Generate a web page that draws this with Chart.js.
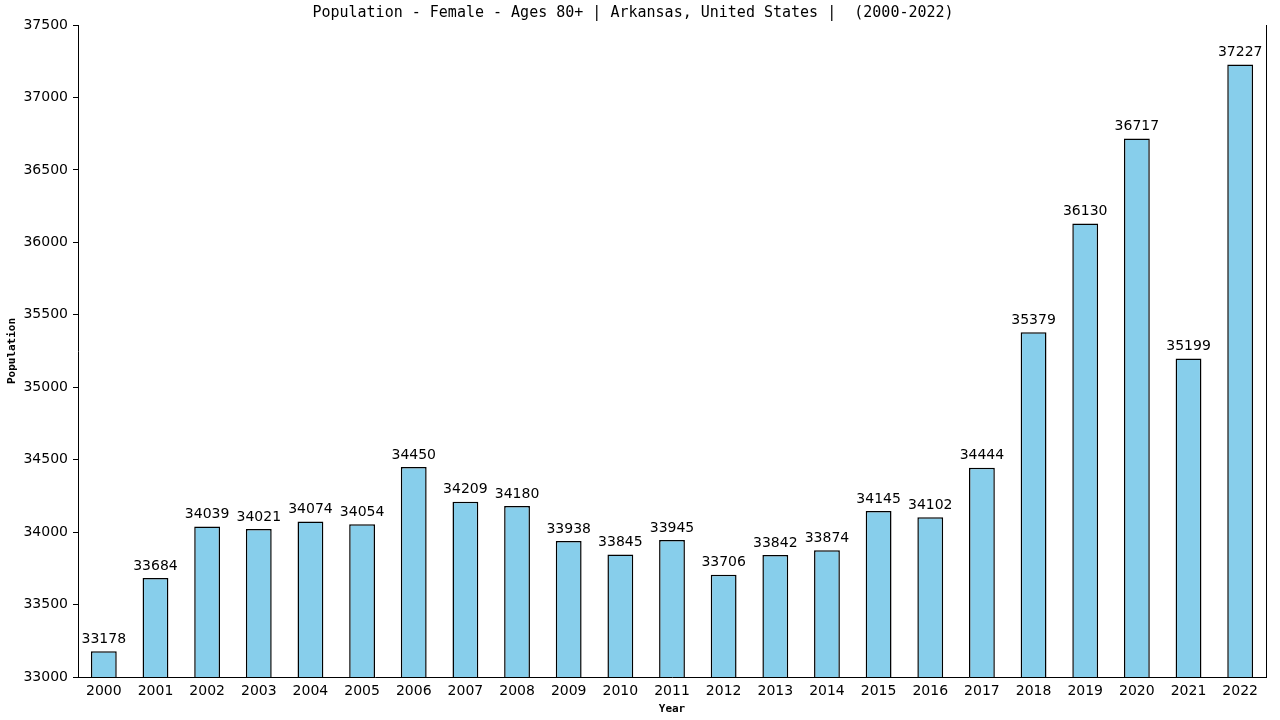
<!DOCTYPE html>
<html lang="en">
<head>
    <meta charset="UTF-8">
    <title>Population - Female - Ages 80+ | Arkansas, United States</title>
    <style>
        body {
            margin: 0;
            background-color: #fff;
        }
        .chart-box {
            width: 1280px;
            height: 720px;
        }
    </style>
</head>
<body>

<div class="chart-box">
    <canvas id="barChart"></canvas>
</div>

<script src="https://cdn.jsdelivr.net/npm/chart.js"></script>
<script>
    const years = ['2000', '2001', '2002', '2003', '2004', '2005', '2006', '2007', '2008', '2009', '2010', '2011',
        '2012', '2013', '2014', '2015', '2016', '2017', '2018', '2019', '2020', '2021', '2022'];
    const population = [33178, 33684, 34039, 34021, 34074, 34054, 34450, 34209, 34180, 33938, 33845, 33945,
        33706, 33842, 33874, 34145, 34102, 34444, 35379, 36130, 36717, 35199, 37227];
    const yMin = 33000;
    const yMax = 37500;
    const yStep = 500;

    const monoFont = "'DejaVu Sans Mono', monospace";
    const sansFont = "'DejaVu Sans', Verdana, sans-serif";

    // value labels over each bar + the right hand frame line
    const extras = {
        id: 'extras',
        afterDatasetsDraw(chart) {
            const ctx = chart.ctx;
            const meta = chart.getDatasetMeta(0);
            ctx.save();
            ctx.fillStyle = '#000';
            ctx.font = '14px ' + sansFont;
            ctx.textAlign = 'center';
            ctx.textBaseline = 'bottom';
            meta.data.forEach((bar, i) => {
                ctx.fillText(String(population[i]), bar.x, bar.y - 5);
            });
            const area = chart.chartArea;
            ctx.strokeStyle = '#000';
            ctx.lineWidth = 1;
            ctx.beginPath();
            ctx.moveTo(Math.round(area.right) + 0.5, area.top);
            ctx.lineTo(Math.round(area.right) + 0.5, area.bottom);
            ctx.stroke();
            ctx.restore();
        }
    };

    const barConfig = {
        type: 'bar',
        data: {
            labels: years,
            datasets: [{
                data: population,
                backgroundColor: '#87CEEB',
                borderColor: '#000',
                borderWidth: 1.5,
                categoryPercentage: 1,
                barPercentage: 0.5
            }]
        },
        options: {
            responsive: true,
            maintainAspectRatio: false,
            devicePixelRatio: 1,
            animation: false,
            layout: {
                padding: { left: 0, right: 14, top: 0, bottom: 4 }
            },
            plugins: {
                legend: { display: false },
                tooltip: { enabled: false },
                title: {
                    display: true,
                    text: 'Population - Female - Ages 80+ | Arkansas, United States |  (2000-2022)',
                    color: '#000',
                    font: { family: monoFont, size: 15, weight: 'normal' },
                    padding: { top: 4, bottom: 3 }
                }
            },
            scales: {
                x: {
                    grid: { display: false },
                    border: { display: true, color: '#000', width: 1 },
                    ticks: {
                        color: '#000',
                        font: { family: sansFont, size: 14 },
                        maxRotation: 0,
                        autoSkip: false,
                        padding: -2
                    },
                    title: {
                        display: true,
                        text: 'Year',
                        color: '#000',
                        font: { family: monoFont, size: 11, weight: 'bold' },
                        padding: { top: 5, bottom: 0 }
                    }
                },
                y: {
                    min: yMin,
                    max: yMax,
                    grid: {
                        display: true,
                        drawOnChartArea: false,
                        drawTicks: true,
                        tickLength: 5,
                        color: '#000'
                    },
                    border: { display: true, color: '#000', width: 1 },
                    ticks: {
                        stepSize: yStep,
                        color: '#000',
                        font: { family: sansFont, size: 14 },
                        padding: 5,
                        callback: (v) => String(v)
                    },
                    title: {
                        display: true,
                        text: 'Population',
                        color: '#000',
                        font: { family: monoFont, size: 11, weight: 'bold' },
                        padding: { top: 6, bottom: 0 }
                    },
                    afterFit(scale) {
                        scale.width = 78;
                    }
                }
            }
        },
        plugins: [extras]
    };

    window.onload = function() {
        const barCtx = document.getElementById('barChart').getContext('2d');
        window.barChart = new Chart(barCtx, barConfig);
    };
</script>

</body>
</html>
